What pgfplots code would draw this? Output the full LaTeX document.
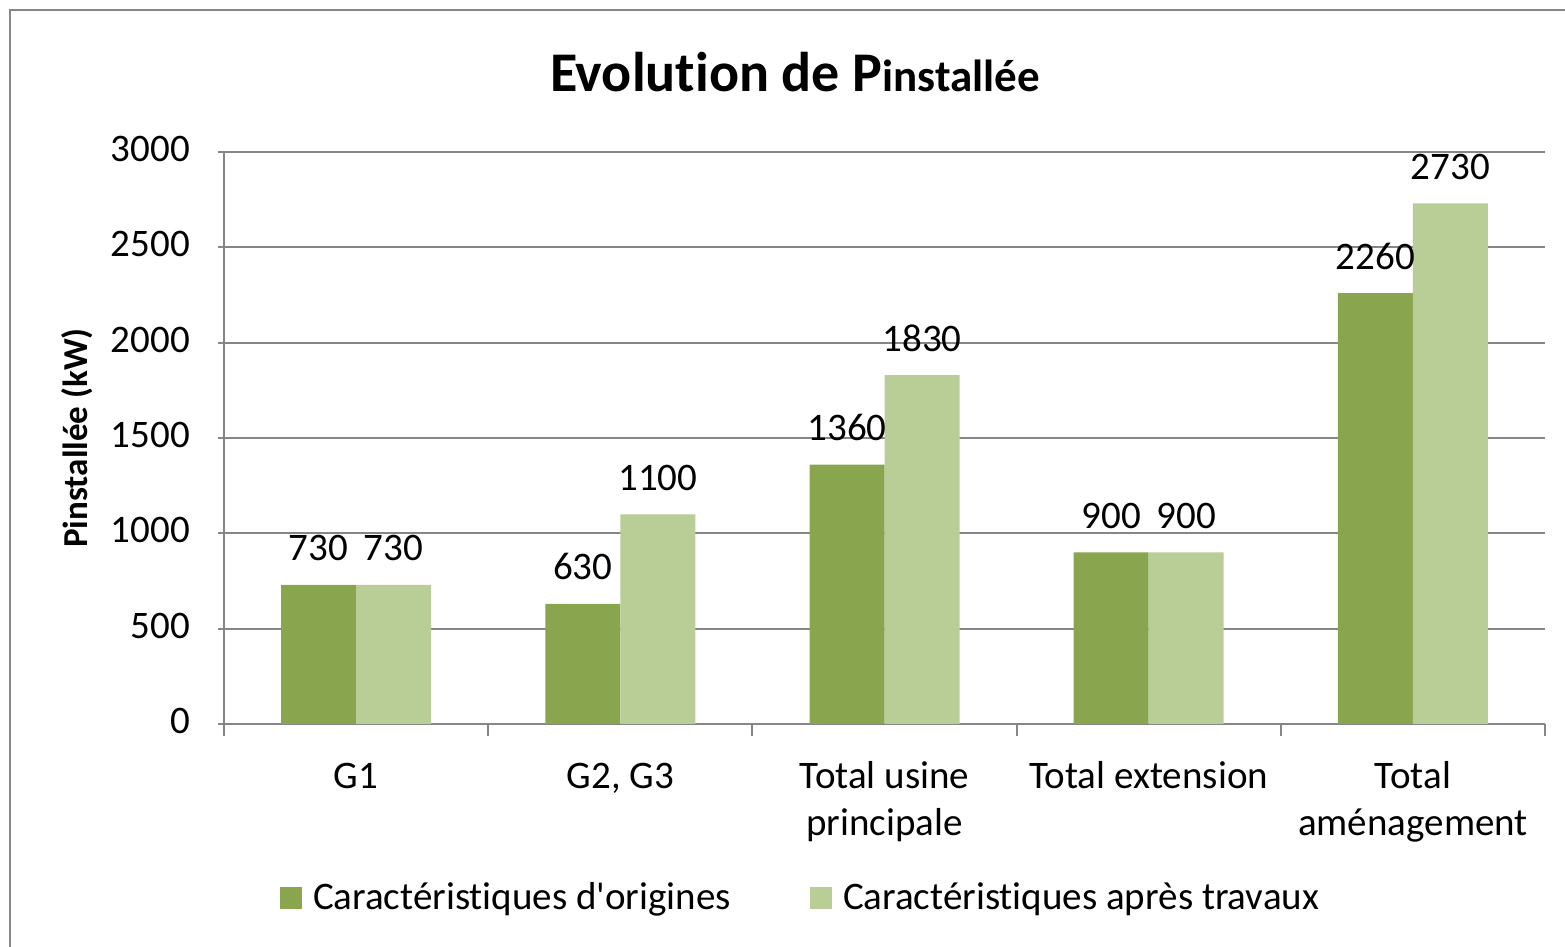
\documentclass[border=0pt]{standalone}
\usepackage{pgfplots}
\pgfplotsset{compat=1.18}
\usepackage{fontspec}
\setmainfont{Carlito}[Ligatures={NoCommon}]
\definecolor{darkg}{RGB}{137,165,78}
\definecolor{lightg}{RGB}{185,205,150}
\definecolor{gridc}{RGB}{134,134,134}
\begin{document}
\begin{tikzpicture}
\useasboundingbox (0,0) rectangle (782.5pt,473.5pt);
\draw[gridc, line width=1pt] (5pt,0) -- (5pt,468.5pt) -- (782.5pt,468.5pt);
\node[anchor=base, font=\fontsize{28}{32}\selectfont\bfseries] at (397.5pt,427.5pt) {Evolution de P{\fontsize{22.5}{26}\selectfont installée}};
\node[rotate=90, anchor=center, font=\fontsize{17.5}{21}\selectfont\bfseries] at (38.5pt,254.5pt) {Pinstallée (kW)};
\begin{axis}[
  at={(112pt,111.5pt)}, anchor=south west,
  scale only axis, width=660.5pt, height=286pt,
  ymin=0, ymax=3000, ytick={0,500,...,3000},
  minor ytick={0,500,...,3000},
  xmin=-0.5, xmax=4.5,
  xtick={0,...,4},
  xticklabels={G1, {G2, G3}, {Total usine\\principale}, {Total extension}, {Total\\aménagement}},
  minor xtick={-0.5,0.5,...,4.5},
  major tick length=0pt, minor tick length=6pt, tick align=outside,
  axis lines=left, axis line style={-, gridc, line width=1pt},
  every tick/.style={gridc, line width=1pt},
  minor tick style={gridc, line width=1pt},
  ymajorgrids=true, xmajorgrids=false,
  major grid style={gridc, line width=1pt},
  /pgf/number format/1000 sep={},
  /pgf/number format/assume math mode=true,
  ticklabel style={font=\fontsize{19.5}{23.5}\selectfont},
  yticklabel style={xshift=-13.5pt},
  typeset ticklabels with strut,
  xticklabel style={align=center, anchor=north, yshift=-12.5pt},
  ybar=0pt, bar width=37.5pt,
  nodes near coords,
  every node near coord/.append style={font=\fontsize{19.5}{23.5}\selectfont, anchor=base, yshift=12pt, text=black},
  legend style={draw=none, fill=none, inner sep=0pt, outer sep=0pt,
    at={(0.0424,-0.304)}, anchor=west, legend columns=2,
    font=\fontsize{19.5}{23.5}\selectfont,
    /tikz/every odd column/.append style={column sep=3.5pt},
    /tikz/every even column/.append style={column sep=37.5pt}},
  legend cell align=left,
]
\addplot[fill=darkg, draw=none, legend image code/.code={\fill[darkg] (0pt,-5.5pt) rectangle (11pt,5.5pt);}]
  coordinates {(0,730) (1,630) (2,1360) (3,900) (4,2260)};
\addplot[fill=lightg, draw=none, legend image code/.code={\fill[lightg] (0pt,-5.5pt) rectangle (11pt,5.5pt);}]
  coordinates {(0,730) (1,1100) (2,1830) (3,900) (4,2730)};
\legend{Caractéristiques d\textquotesingle origines, Caractéristiques après travaux}
\end{axis}
\end{tikzpicture}
\end{document}
